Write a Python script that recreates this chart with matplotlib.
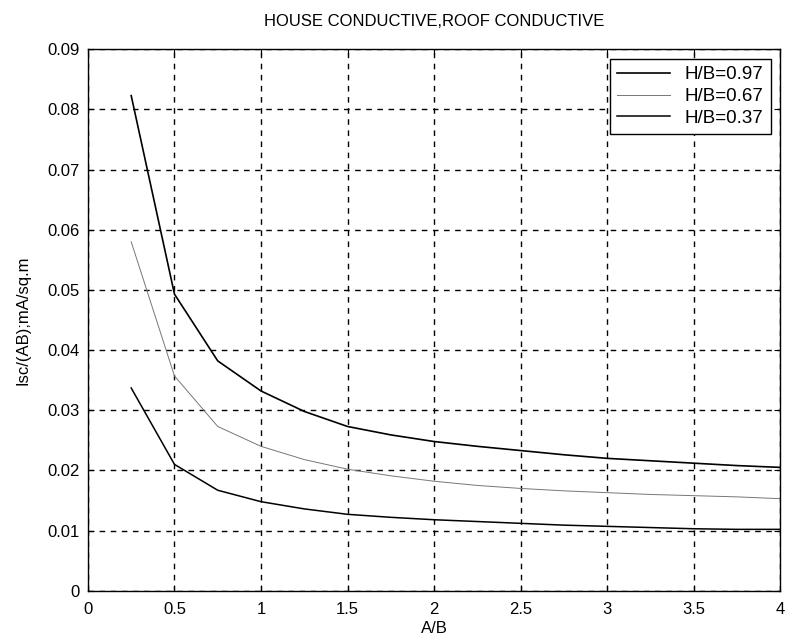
import matplotlib
matplotlib.use("Agg")
import matplotlib.pyplot as plt

plt.rcParams["font.family"] = ["Liberation Sans", "DejaVu Sans"]
plt.rcParams["font.size"] = 12

ab = [0.25, 0.5, 0.75, 1.0, 1.25, 1.5, 1.75, 2.0, 2.25, 2.5, 2.75, 3.0, 3.25, 3.5, 3.75, 4.0]
hb_097 = [0.0823, 0.0493, 0.0382, 0.0332, 0.0298, 0.0273, 0.0259, 0.0248, 0.0240,
          0.0233, 0.0226, 0.0220, 0.0216, 0.0212, 0.0208, 0.0205]
hb_067 = [0.0580, 0.0357, 0.0273, 0.0240, 0.0218, 0.0202, 0.0191, 0.0182, 0.0175,
          0.0170, 0.0166, 0.0163, 0.0160, 0.0158, 0.0156, 0.0153]
hb_037 = [0.0337, 0.0210, 0.0167, 0.0148, 0.0136, 0.0127, 0.0122, 0.0118, 0.0115,
          0.0112, 0.0109, 0.0107, 0.0105, 0.0103, 0.0102, 0.0102]

fig = plt.figure(figsize=(7.85, 6.4), dpi=100)
ax = fig.add_axes([0.112, 0.077, 0.882, 0.846])

ax.plot(ab, hb_097, color="black", linewidth=1.2, label="H/B=0.97")
ax.plot(ab, hb_067, color="#777777", linewidth=0.7, label="H/B=0.67")
ax.plot(ab, hb_037, color="black", linewidth=1.1, label="H/B=0.37")

ax.set_xlim(0, 4)
ax.set_ylim(0, 0.09)
ax.set_xticks([0, 0.5, 1, 1.5, 2, 2.5, 3, 3.5, 4])
ax.set_xticklabels(["0", "0.5", "1", "1.5", "2", "2.5", "3", "3.5", "4"])
ax.set_yticks([i * 0.01 for i in range(10)])
ax.set_yticklabels(["0", "0.01", "0.02", "0.03", "0.04", "0.05", "0.06", "0.07", "0.08", "0.09"])
ax.tick_params(direction="in", length=4, top=True, right=True, labelsize=12)
ax.tick_params(axis="x", pad=8)
ax.tick_params(axis="y", pad=6)
ax.grid(True, color="black", linestyle=(0, (4, 4)), linewidth=1.0)
for s in ax.spines.values():
    s.set_linewidth(1.0)

ax.set_title("HOUSE CONDUCTIVE,ROOF CONDUCTIVE", fontsize=12, pad=17)
ax.set_xlabel("A/B", fontsize=12, labelpad=3)
ax.set_ylabel("Isc/(AB);mA/sq.m", fontsize=12, labelpad=12)

leg = ax.legend(loc="upper right", fontsize=13.5, frameon=True, fancybox=False,
                edgecolor="black", framealpha=1, borderaxespad=0.5,
                handlelength=2.8, labelspacing=0.25, borderpad=0.4)
leg.get_frame().set_linewidth(1.0)

fig.savefig("out.png", dpi=100)
